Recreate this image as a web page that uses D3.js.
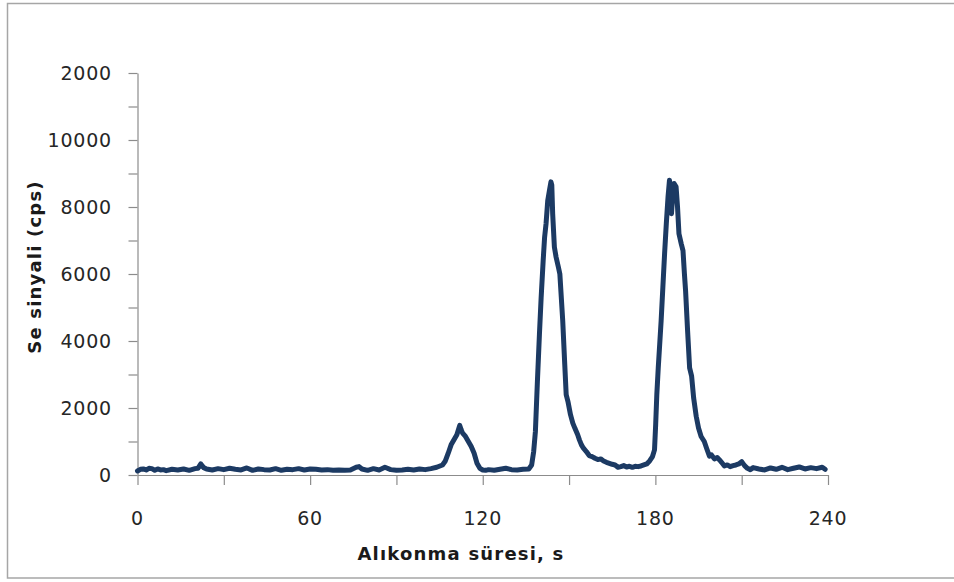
<!DOCTYPE html>
<html>
<head>
<meta charset="utf-8">
<script src="https://cdn.jsdelivr.net/npm/d3@7"></script>
<style>
  body { margin: 0; background: #fff; }
  svg { display: block; }
</style>
</head>
<body>
<div class="chart"></div>
<script>
// retention time (s)
const times = [
  0, 1, 2, 3, 4, 5, 6, 7, 8, 9, 10, 12, 14, 16, 18, 20, 21, 22, 23, 24,
  26, 28, 30, 32, 34, 36, 38, 40, 42, 44, 46, 48, 50, 52, 54, 56, 58, 60, 62, 64,
  66, 68, 70, 72, 74, 76, 77, 78, 80, 82, 84, 86, 88, 90, 92, 94, 96, 98, 100, 102, 104,
  106, 107, 108, 109, 110, 111, 112, 112.5, 113, 114, 115, 116, 117, 118, 119, 120,
  121, 122, 124, 126, 128, 130, 132, 134, 136,
  137, 137.7, 138.3, 139, 139.7, 140.3, 141, 141.5, 142, 142.6, 143.2, 143.7, 144, 144.3, 144.9,
  145.5, 146.3, 146.8, 147.8, 148.5, 149, 149.6, 150.5, 151.3, 152, 153, 153.6, 154.3, 155, 156,
  157, 158, 159, 160, 161, 162, 163, 164, 165, 166, 167, 168, 169, 170, 171, 172, 173, 174, 175,
  176, 177, 178, 179, 179.7, 180.1, 180.5, 181, 181.5, 182, 182.6, 183.2, 183.8, 184.4, 184.9,
  185.3, 185.6, 186, 186.5, 187.2, 187.7, 188.2, 189, 189.6, 190.1, 190.5, 191.2, 191.9, 192.6,
  193.3, 194.2, 195, 195.9, 197, 197.8, 198.8, 199.5, 200.5, 201.5, 202.3, 203, 204, 205, 206,
  207, 208, 209, 210, 211, 212, 213, 214, 216, 218, 220, 222, 224, 226, 228, 230, 232, 234, 236, 238, 239
];

// Se signal (cps)
const cps = [
  120, 170, 180, 150, 200, 190, 140, 180, 150, 160, 130, 170, 150, 180, 140, 190, 200, 330, 220, 180,
  150, 190, 160, 200, 170, 150, 210, 140, 180, 160, 150, 190, 140, 170, 160, 190, 150, 180, 170, 150,
  160, 140, 150, 140, 150, 230, 250, 180, 140, 190, 150, 230, 160, 140, 150, 170, 150, 180, 160, 190, 230,
  300, 420, 650, 900, 1050, 1200, 1480, 1350, 1250, 1150, 1000, 850, 650, 350, 200, 150,
  140, 160, 140, 170, 200, 160, 150, 170, 180,
  300, 700, 1300, 2800, 4200, 5300, 6400, 7100, 7500, 8200, 8500, 8750, 8650, 7800, 6800,
  6500, 6200, 6000, 4600, 3300, 2400, 2200, 1800, 1550, 1400, 1200, 1050, 900, 800, 700,
  580, 550, 500, 460, 480, 420, 380, 350, 320, 300, 230, 250, 280, 240, 260, 230, 260, 250, 270,
  300, 330, 420, 550, 750, 1500, 2400, 3200, 3900, 4600, 5600, 6600, 7500, 8300, 8800,
  8300, 7800, 8300, 8700, 8600, 8000, 7200, 6900, 6700, 6000, 5500, 4300, 3200, 2950,
  2300, 1750, 1400, 1150, 1000, 800, 560, 600, 480, 520, 450, 380, 270, 300, 250,
  280, 300, 330, 400, 280, 200, 160, 220, 180, 150, 210, 170, 230, 160, 200, 240, 180, 220, 190, 230, 170
];

const xTicks = [0, 60, 120, 180, 240];
const yTicks = [0, 2000, 4000, 6000, 8000, 10000, 12000];
const yTickLabels = ['0', '2000', '4000', '6000', '8000', '10000', '2000'];

const width = 954, height = 582;
const plotLeft = 137.5, plotRight = 828, plotTop = 73, plotBottom = 475;
const font = '"DejaVu Sans", Verdana, sans-serif';

const svg = d3.select('.chart')
    .append('svg')
    .attr('width', width)
    .attr('height', height);

// frame
svg.append('rect')
    .attr('x', 7.5).attr('y', 3.5)
    .attr('width', 980).attr('height', 574.5)
    .attr('fill', 'none')
    .attr('stroke', '#a6a6a6')
    .attr('stroke-width', 1.5);

const x = d3.scaleLinear().domain([0, 240]).range([plotLeft, plotRight]);
const y = d3.scaleLinear().domain([0, 12000]).range([plotBottom, plotTop]);

// y axis
const yAxis = svg.append('g')
    .attr('transform', `translate(${plotLeft},0)`)
    .call(d3.axisLeft(y).tickValues(d3.range(0, 12001, 1000)).tickSize(9).tickSizeOuter(0).tickFormat(''));
yAxis.selectAll('path, line').attr('stroke', '#8c8c8c').attr('stroke-width', 1.2);

svg.append('g').selectAll('text')
    .data(yTicks)
    .join('text')
    .attr('x', 112)
    .attr('y', d => y(d))
    .attr('dy', '0.36em')
    .attr('text-anchor', 'end')
    .attr('font-family', font)
    .attr('font-size', 19)
    .attr('letter-spacing', 0.8)
    .attr('fill', '#262626')
    .text((d, i) => yTickLabels[i]);

// x axis
const xAxis = svg.append('g')
    .attr('transform', `translate(0,${plotBottom})`)
    .call(d3.axisBottom(x).tickValues(d3.range(0, 241, 30)).tickSize(10).tickSizeOuter(0).tickFormat(''));
xAxis.selectAll('path, line').attr('stroke', '#8c8c8c').attr('stroke-width', 1.2);

svg.append('g').selectAll('text')
    .data(xTicks)
    .join('text')
    .attr('x', d => x(d))
    .attr('y', 525)
    .attr('text-anchor', 'middle')
    .attr('font-family', font)
    .attr('font-size', 19)
    .attr('letter-spacing', 0.8)
    .attr('fill', '#262626')
    .text(d => d);

// axis titles
svg.append('text')
    .attr('x', 461)
    .attr('y', 560)
    .attr('text-anchor', 'middle')
    .attr('font-family', font)
    .attr('font-weight', 'bold')
    .attr('font-size', 18)
    .attr('letter-spacing', 1.2)
    .attr('fill', '#1a1a1a')
    .text('Alıkonma süresi, s');

svg.append('text')
    .attr('transform', 'translate(41,267) rotate(-90)')
    .attr('text-anchor', 'middle')
    .attr('font-family', font)
    .attr('font-weight', 'bold')
    .attr('font-size', 18)
    .attr('letter-spacing', 1.2)
    .attr('fill', '#1a1a1a')
    .text('Se sinyali (cps)');

// signal trace
const data = times.map((t, i) => ({ t: t, v: cps[i] }));
const line = d3.line()
    .x(d => x(d.t))
    .y(d => y(d.v));

svg.append('path')
    .datum(data)
    .attr('d', line)
    .attr('fill', 'none')
    .attr('stroke', '#1c3a63')
    .attr('stroke-width', 5)
    .attr('stroke-linejoin', 'round')
    .attr('stroke-linecap', 'round');
</script>
</body>
</html>
